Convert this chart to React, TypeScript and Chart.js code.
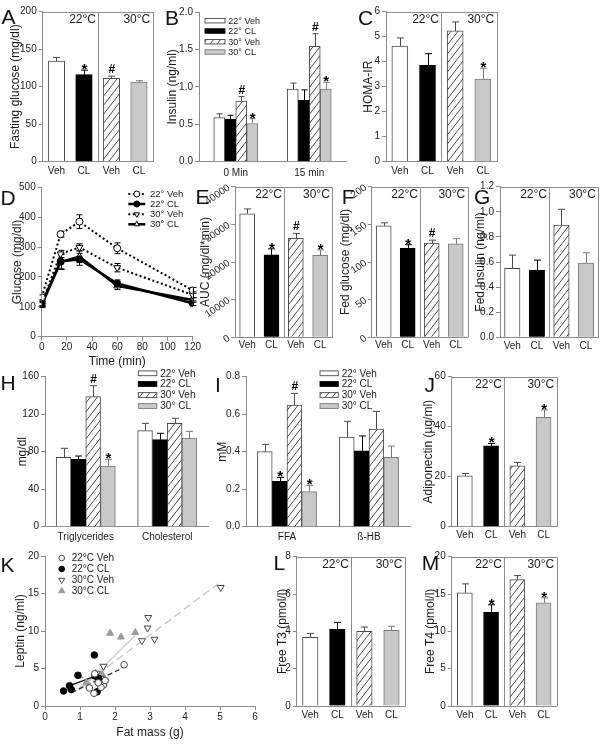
import React, { useEffect, useRef } from 'react';
import { Chart, registerables } from 'chart.js';

Chart.register(...registerables);

const FONT = "'Liberation Sans', Arial, Helvetica, sans-serif";
const AX = '#8a8a8a';
const TXT = '#1a1a1a';

// ======================= DATA =======================
const GROUPS = ['22° Veh', '22° CL', '30° Veh', '30° CL'];
const GROUPS_K = ['22°C Veh', '22°C CL', '30°C Veh', '30°C CL'];
const TREATMENTS = ['Veh', 'CL', 'Veh', 'CL'];
const TEMPS = ['22°C', '30°C'];

// A – fasting glucose (mg/dl)
const fastingGlucose = [134, 116, 111, 106];
const fastingGlucoseErr = [5, 6, 3, 2];
const fastingGlucoseSig = ['', '*', '#', ''];

// B – insulin (ng/ml)
const insulinTimes = ['0 Min', '15 min'];
const insulinVeh22 = [0.59, 0.97];
const insulinCL22 = [0.57, 0.82];
const insulinVeh30 = [0.81, 1.54];
const insulinCL30 = [0.51, 0.97];
const insulinVeh22Err = [0.05, 0.08];
const insulinCL22Err = [0.05, 0.14];
const insulinVeh30Err = [0.06, 0.17];
const insulinCL30Err = [0.065, 0.09];
const insulinVeh22Sig = ['', ''];
const insulinCL22Sig = ['', ''];
const insulinVeh30Sig = ['#', '#'];
const insulinCL30Sig = ['*', '*'];

// C – HOMA-IR
const homaIR = [4.62, 3.85, 5.23, 3.3];
const homaIRErr = [0.33, 0.47, 0.36, 0.44];
const homaIRSig = ['', '', '', '*'];

// D – glucose tolerance test (mg/dl)
const gttTimes = [0, 15, 30, 60, 120];
const gttVeh22 = [132, 343, 385, 296, 155];
const gttCL22 = [110, 252, 259, 178, 112];
const gttVeh30 = [112, 277, 299, 231, 140];
const gttCL30 = [106, 250, 268, 170, 123];
const gttVeh22Err = [8, 10, 23, 18, 10];
const gttCL22Err = [8, 25, 20, 12, 8];
const gttVeh30Err = [8, 12, 12, 14, 10];
const gttCL30Err = [8, 25, 20, 12, 8];

// E – AUC (mg/dl*min)
const aucGlucose = [32800, 21900, 26300, 21800];
const aucGlucoseErr = [1300, 1600, 1300, 1400];
const aucGlucoseSig = ['', '*', '#', '*'];

// F – fed glucose (mg/dl)
const fedGlucose = [148, 118, 125, 124];
const fedGlucoseErr = [4, 5, 4, 7];
const fedGlucoseSig = ['', '*', '#', ''];

// G – fed insulin (ng/ml)
const fedInsulin = [0.55, 0.535, 0.895, 0.592];
const fedInsulinErr = [0.105, 0.08, 0.125, 0.082];
const fedInsulinSig = ['', '', '', ''];

// H – lipids (mg/dl)
const lipidLabels = ['Triglycerides', 'Cholesterol'];
const lipidVeh22 = [74, 102.4];
const lipidCL22 = [71.8, 92.8];
const lipidVeh30 = [138.7, 110.2];
const lipidCL30 = [64.7, 94.6];
const lipidVeh22Err = [9.6, 7.8];
const lipidCL22Err = [3.6, 6.8];
const lipidVeh30Err = [11.7, 5.4];
const lipidCL30Err = [7.1, 7.1];
const lipidVeh22Sig = ['', ''];
const lipidCL22Sig = ['', ''];
const lipidVeh30Sig = ['#', ''];
const lipidCL30Sig = ['*', ''];

// I – FFA / ß-HB (mM)
const fuelLabels = ['FFA', 'ß-HB'];
const fuelVeh22 = [0.4, 0.478];
const fuelCL22 = [0.242, 0.404];
const fuelVeh30 = [0.649, 0.52];
const fuelCL30 = [0.187, 0.37];
const fuelVeh22Err = [0.039, 0.084];
const fuelCL22Err = [0.021, 0.08];
const fuelVeh30Err = [0.062, 0.095];
const fuelCL30Err = [0.033, 0.06];
const fuelVeh22Sig = ['', ''];
const fuelCL22Sig = ['*', ''];
const fuelVeh30Sig = ['#', ''];
const fuelCL30Sig = ['*', ''];

// J – adiponectin (µg/ml)
const adiponectin = [20.3, 32.3, 24.3, 43.7];
const adiponectinErr = [1.0, 1.0, 1.4, 3.0];
const adiponectinSig = ['', '*', '', '*'];

// K – leptin vs fat mass
const fatVeh22 = [2.26, 1.27, 1.4, 1.67, 1.6, 1.52, 1.72, 1.42];
const leptinVeh22 = [5.5, 2.4, 1.7, 2.8, 2.5, 3.1, 3.4, 4.3];
const fatCL22 = [0.53, 0.7, 0.75, 0.94, 1.41, 1.43, 1.53, 1.49];
const leptinCL22 = [2.0, 2.7, 2.2, 4.1, 6.8, 4.0, 3.7, 1.9];
const fatVeh30 = [2.95, 2.93, 2.77, 3.13, 1.67, 1.48, 1.59, 5.02];
const leptinVeh30 = [11.8, 10.4, 8.7, 8.9, 5.3, 4.3, 3.7, 15.8];
const fatCL30 = [0.98, 1.18, 1.25, 1.45, 1.64, 1.86, 2.17, 2.58];
const leptinCL30 = [4.0, 3.1, 2.7, 4.4, 4.2, 9.7, 9.2, 9.8];
const fitVeh22X = [0.76, 2.19];
const fitVeh22Y = [1.8, 5.0];
const fitCL22X = [0.67, 1.52];
const fitCL22Y = [2.65, 4.13];
const fitVeh30X = [0.95, 4.95];
const fitVeh30Y = [2.3, 16.3];
const fitCL30X = [0.98, 2.58];
const fitCL30Y = [2.1, 9.4];

// L – free T3 (pmol/l)
const freeT3 = [3.68, 4.11, 4.0, 4.05];
const freeT3Err = [0.21, 0.37, 0.23, 0.22];
const freeT3Sig = ['', '', '', ''];

// M – free T4 (pmol/l)
const freeT4 = [15.16, 12.58, 16.93, 13.82];
const freeT4Err = [1.2, 0.98, 0.54, 0.67];
const freeT4Sig = ['', '*', '', '*'];

// ======================= LAYOUT / STYLE =======================
type Origin = { x: number; y: number };
type Geom = { l: number; t: number; r: number; b: number; titleX: number; xH: number };

const GEOM: Record<string, Geom> = {
  A: { l: 42.7, t: 11.7, r: 152.7, b: 161.7, titleX: 15, xH: 24 },
  B: { l: 199, t: 12, r: 346, b: 161.7, titleX: 171.7, xH: 24 },
  C: { l: 386, t: 11.7, r: 496.7, b: 161.7, titleX: 368.3, xH: 24 },
  D: { l: 41.7, t: 187.3, r: 192.7, b: 336.7, titleX: 16.7, xH: 32.5 },
  E: { l: 235, t: 186.7, r: 332.3, b: 337.3, titleX: 205, xH: 22 },
  F: { l: 371.7, t: 186.7, r: 467.7, b: 337.3, titleX: 345, xH: 22 },
  G: { l: 500, t: 186.7, r: 598.3, b: 337.3, titleX: 480, xH: 22 },
  H: { l: 45, t: 376.7, r: 208, b: 526.7, titleX: 21.7, xH: 24 },
  I: { l: 246, t: 376.7, r: 410, b: 526.7, titleX: 221.7, xH: 24 },
  J: { l: 451.7, t: 376.7, r: 556.7, b: 526.7, titleX: 428, xH: 24 },
  K: { l: 45, t: 556, r: 255, b: 706, titleX: 20, xH: 34 },
  L: { l: 296.7, t: 556.7, r: 405, b: 706, titleX: 281.7, xH: 22 },
  M: { l: 451.7, t: 556.7, r: 556.7, b: 706, titleX: 430, xH: 22 },
};

const LETTERS: [string, number, number][] = [
  ['A', 1.5, 5.6], ['B', 165, 7.3], ['C', 358, 7.3], ['D', 0.5, 187.3],
  ['E', 195.5, 185.6], ['F', 341.7, 185.6], ['G', 474, 185.6],
  ['H', 0.5, 372.3], ['I', 215, 374], ['J', 424.5, 374],
  ['K', 0.5, 554], ['L', 273.4, 552.3], ['M', 421.7, 551.6],
];

const GROUP_BORDERS = ['#4a4a4a', '#000000', '#4a4a4a', '#7a7a7a'];

function hatch(): any {
  const c = document.createElement('canvas');
  c.width = 7;
  c.height = 9;
  const g = c.getContext('2d');
  if (!g) return '#eeeeee';
  g.fillStyle = '#ffffff';
  g.fillRect(0, 0, 7, 9);
  g.strokeStyle = '#333333';
  g.lineWidth = 0.9;
  g.beginPath();
  for (const dx of [-7, 0, 7]) {
    g.moveTo(dx, 9);
    g.lineTo(dx + 7, 0);
  }
  g.stroke();
  return g.createPattern(c, 'repeat') || '#eeeeee';
}

function groupFills(): any[] {
  return ['#ffffff', '#000000', hatch(), '#c8c8c8'];
}

function drawMarker(ctx: CanvasRenderingContext2D, style: string, x: number, y: number, r: number, fill: any, stroke: string) {
  ctx.beginPath();
  if (style === 'circle') {
    ctx.arc(x, y, r, 0, Math.PI * 2);
  } else {
    let rad = style === 'triDown' ? Math.PI : 0;
    for (let k = 0; k < 3; k++) {
      const px = x + Math.sin(rad) * r;
      const py = y - Math.cos(rad) * r;
      if (k === 0) ctx.moveTo(px, py);
      else ctx.lineTo(px, py);
      rad += (2 * Math.PI) / 3;
    }
    ctx.closePath();
  }
  ctx.fillStyle = fill;
  ctx.fill();
  ctx.lineWidth = 1;
  ctx.strokeStyle = stroke;
  ctx.stroke();
}

function drawLegend(ctx: CanvasRenderingContext2D, L: any, o: Origin) {
  ctx.save();
  L.items.forEach((it: any, k: number) => {
    const y = L.ys[k] - o.y;
    const x = L.x - o.x;
    if (L.kind === 'box') {
      ctx.fillStyle = it.fill;
      ctx.fillRect(x, y - L.h / 2, L.w, L.h);
      ctx.strokeStyle = it.stroke;
      ctx.lineWidth = 0.9;
      ctx.strokeRect(x, y - L.h / 2, L.w, L.h);
    } else if (L.kind === 'line') {
      ctx.strokeStyle = it.stroke;
      ctx.lineWidth = it.lw;
      ctx.setLineDash(it.dash || []);
      ctx.beginPath();
      ctx.moveTo(x, y);
      ctx.lineTo(x + L.w, y);
      ctx.stroke();
      ctx.setLineDash([]);
      drawMarker(ctx, it.marker, x + L.w / 2, y, 3, it.mfill, it.stroke);
    } else {
      drawMarker(ctx, it.marker, x, y, it.r, it.mfill, it.mstroke);
    }
    ctx.fillStyle = TXT;
    ctx.font = `${L.font}px ${FONT}`;
    ctx.textAlign = 'left';
    ctx.textBaseline = 'middle';
    ctx.fillText(it.label, L.tx - o.x, y + 0.5);
  });
  ctx.restore();
}

function annot(o: any) {
  const valueOf = (d: any) => (typeof d === 'number' ? d : d.y);
  return {
    id: 'annot',
    beforeDatasetsDraw(chart: any) {
      if (!o.errs) return;
      const ctx = chart.ctx;
      const ys = chart.scales.y;
      const cap = o.cap || 7;
      ctx.save();
      ctx.lineWidth = 1;
      o.errs.forEach((arr: number[], i: number) => {
        const meta = chart.getDatasetMeta(i);
        meta.data.forEach((el: any, j: number) => {
          const e = arr[j];
          if (!e) return;
          const v = valueOf(chart.data.datasets[i].data[j]);
          const x = Math.round(el.x) + 0.5;
          const top = ys.getPixelForValue(v + e);
          const bot = o.both ? ys.getPixelForValue(v - e) : el.y;
          ctx.strokeStyle = o.errColor ? o.errColor(i, j) : '#000';
          ctx.beginPath();
          ctx.moveTo(x, bot);
          ctx.lineTo(x, top);
          ctx.moveTo(x - cap / 2, top);
          ctx.lineTo(x + cap / 2, top);
          if (o.both) {
            ctx.moveTo(x - cap / 2, bot);
            ctx.lineTo(x + cap / 2, bot);
          }
          ctx.stroke();
        });
      });
      ctx.restore();
    },
    afterDatasetsDraw(chart: any) {
      const ctx = chart.ctx;
      const a = chart.chartArea;
      const xs = chart.scales.x;
      const ys = chart.scales.y;
      ctx.save();
      if (o.frame) {
        ctx.strokeStyle = AX;
        ctx.lineWidth = 1;
        const T = Math.round(a.top) + 0.5;
        const R = Math.round(a.right) + 0.5;
        const dx = Math.round((xs.getPixelForValue(1) + xs.getPixelForValue(2)) / 2) + 0.5;
        ctx.beginPath();
        ctx.moveTo(a.left, T);
        ctx.lineTo(R, T);
        ctx.lineTo(R, a.bottom);
        ctx.moveTo(dx, T);
        ctx.lineTo(dx, a.bottom);
        ctx.stroke();
        ctx.fillStyle = TXT;
        ctx.font = `12px ${FONT}`;
        ctx.textAlign = 'right';
        ctx.textBaseline = 'middle';
        ctx.fillText(TEMPS[0], dx - 2.5, a.top + 8);
        ctx.fillText(TEMPS[1], a.right - 2.5, a.top + 8);
      }
      if (o.sig && o.errs) {
        ctx.fillStyle = '#000';
        ctx.textAlign = 'center';
        ctx.textBaseline = 'alphabetic';
        o.sig.forEach((arr: string[], i: number) => {
          const meta = chart.getDatasetMeta(i);
          meta.data.forEach((el: any, j: number) => {
            const m = arr[j];
            if (!m) return;
            const v = valueOf(chart.data.datasets[i].data[j]);
            const top = ys.getPixelForValue(v + (o.errs[i][j] || 0));
            if (m === '*') {
              ctx.font = `bold 15px ${FONT}`;
              ctx.fillText('*', el.x + 0.5, top + 4);
            } else {
              ctx.font = `bold 12px ${FONT}`;
              ctx.fillText(m, el.x + 0.5, top - 3);
            }
          });
        });
      }
      if (o.legend) drawLegend(ctx, o.legend, o.origin);
      ctx.restore();
    },
  };
}

function baseOptions(scales: any) {
  return {
    animation: false,
    responsive: false,
    maintainAspectRatio: false,
    events: [],
    plugins: { legend: { display: false }, tooltip: { enabled: false }, title: { display: false } },
    scales,
  };
}

const tickFont = { family: FONT, size: 10 };

function yLin(min: number, max: number, step: number, title: string, dec = 0, rot = 0) {
  return {
    type: 'linear',
    min,
    max,
    ticks: {
      stepSize: step,
      font: tickFont,
      color: TXT,
      padding: 2,
      autoSkip: false,
      minRotation: rot,
      maxRotation: rot,
      callback: (v: number) => (dec ? Number(v).toFixed(dec) : String(Math.round(v))),
    },
    grid: { display: true, drawOnChartArea: false, drawTicks: true, tickLength: 4, color: AX },
    border: { display: true, color: AX, width: 1 },
    title: { display: true, text: title, font: { family: FONT, size: 12 }, color: TXT, padding: 0 },
  };
}

function xCat(pad: number) {
  return {
    type: 'category',
    offset: true,
    grid: { display: false, drawTicks: false, tickLength: 0 },
    border: { display: true, color: AX, width: 1 },
    ticks: { font: tickFont, color: TXT, padding: pad, autoSkip: false, maxRotation: 0, minRotation: 0 },
  };
}

function xLin(min: number, max: number, step: number, title: string, pad: number) {
  return {
    type: 'linear',
    min,
    max,
    ticks: { stepSize: step, font: tickFont, color: TXT, padding: pad, autoSkip: false, maxRotation: 0 },
    grid: { display: true, drawOnChartArea: false, drawTicks: true, tickLength: 4, color: AX },
    border: { display: true, color: AX, width: 1 },
    title: { display: true, text: title, font: { family: FONT, size: 12 }, color: TXT, padding: 0 },
  };
}

function singleBar(o: Origin, values: number[], errs: number[], sig: string[], y: any, thick: number, pad: number) {
  const fills = groupFills();
  return {
    type: 'bar',
    data: {
      labels: TREATMENTS,
      datasets: [{ data: values, backgroundColor: fills, borderColor: GROUP_BORDERS, borderWidth: 1, barThickness: thick }],
    },
    options: baseOptions({ x: xCat(pad), y }),
    plugins: [annot({ errs: [errs], sig: [sig], errColor: (_i: number, j: number) => GROUP_BORDERS[j], cap: 7, frame: true, origin: o })],
  };
}

function groupedBar(o: Origin, labels: string[], series: number[][], errs: number[][], sig: string[][], y: any, thick: number, pad: number, cap: number, leg: any) {
  const fills = groupFills();
  const datasets = series.map((d, i) => ({
    label: GROUPS[i],
    data: d,
    backgroundColor: fills[i],
    borderColor: GROUP_BORDERS[i],
    borderWidth: 1,
    barThickness: thick,
  }));
  const legend = { ...leg, kind: 'box', items: GROUPS.map((g, i) => ({ label: g, fill: fills[i], stroke: GROUP_BORDERS[i] })) };
  return {
    type: 'bar',
    data: { labels, datasets },
    options: baseOptions({ x: xCat(pad), y }),
    plugins: [annot({ errs, sig, errColor: (i: number) => GROUP_BORDERS[i], cap, legend, origin: o })],
  };
}

const D_STYLE = [
  { lw: 2, dash: [2, 2.5], ps: 'circle', rot: 0, r: 3.5, fill: '#ffffff', m: 'circle' },
  { lw: 2.5, dash: [], ps: 'circle', rot: 0, r: 3.5, fill: '#000000', m: 'circle' },
  { lw: 2, dash: [2, 2.5], ps: 'triangle', rot: 180, r: 4, fill: '#ffffff', m: 'triDown' },
  { lw: 2.5, dash: [], ps: 'triangle', rot: 0, r: 4, fill: '#ffffff', m: 'triUp' },
];

function makeD(o: Origin) {
  const series = [gttVeh22, gttCL22, gttVeh30, gttCL30];
  const errs = [gttVeh22Err, gttCL22Err, gttVeh30Err, gttCL30Err];
  const datasets = series.map((s, i) => ({
    label: GROUPS[i],
    data: gttTimes.map((t, k) => ({ x: t, y: s[k] })),
    borderColor: '#000000',
    borderWidth: D_STYLE[i].lw,
    borderDash: D_STYLE[i].dash,
    pointStyle: D_STYLE[i].ps,
    pointRotation: D_STYLE[i].rot,
    pointRadius: D_STYLE[i].r,
    pointBackgroundColor: D_STYLE[i].fill,
    pointBorderColor: '#000000',
    pointBorderWidth: 1,
    tension: 0,
    fill: false,
  }));
  const legend = {
    kind: 'line', x: 128.3, w: 17, tx: 150, ys: [194, 204, 214.3, 224.3], font: 9.5,
    items: GROUPS.map((g, i) => ({ label: g, stroke: '#000', lw: D_STYLE[i].lw, dash: D_STYLE[i].dash, marker: D_STYLE[i].m, mfill: D_STYLE[i].fill })),
  };
  return {
    type: 'line',
    data: { datasets },
    options: baseOptions({ x: xLin(0, 120, 20, 'Time (min)', 1), y: yLin(0, 500, 100, 'Glucose (mg/dl)') }),
    plugins: [annot({ errs, both: true, cap: 6, errColor: () => '#000', legend, origin: o })],
  };
}

const K_STYLE = [
  { ps: 'circle', rot: 0, r: 3.3, fill: '#ffffff', stroke: '#444444', m: 'circle', line: '#333333', dash: [5, 3] },
  { ps: 'circle', rot: 0, r: 3.3, fill: '#000000', stroke: '#000000', m: 'circle', line: '#111111', dash: [] },
  { ps: 'triangle', rot: 180, r: 4, fill: '#ffffff', stroke: '#444444', m: 'triDown', line: '#c4c4c4', dash: [8, 4] },
  { ps: 'triangle', rot: 0, r: 4, fill: '#9a9a9a', stroke: '#9a9a9a', m: 'triUp', line: '#cccccc', dash: [] },
];

function makeK(o: Origin) {
  const pts = [[fatVeh22, leptinVeh22], [fatCL22, leptinCL22], [fatVeh30, leptinVeh30], [fatCL30, leptinCL30]];
  const fits = [[fitVeh22X, fitVeh22Y], [fitCL22X, fitCL22Y], [fitVeh30X, fitVeh30Y], [fitCL30X, fitCL30Y]];
  const pointSets = pts.map(([xs, ys], i) => ({
    label: GROUPS_K[i],
    data: xs.map((x, k) => ({ x, y: ys[k] })),
    showLine: false,
    pointStyle: K_STYLE[i].ps,
    pointRotation: K_STYLE[i].rot,
    pointRadius: K_STYLE[i].r,
    pointBackgroundColor: K_STYLE[i].fill,
    pointBorderColor: K_STYLE[i].stroke,
    pointBorderWidth: 1,
    order: 0,
  }));
  const lineSets = fits.map(([xs, ys], i) => ({
    label: GROUPS_K[i] + ' fit',
    data: xs.map((x, k) => ({ x, y: ys[k] })),
    showLine: true,
    borderColor: K_STYLE[i].line,
    borderDash: K_STYLE[i].dash,
    borderWidth: 1.3,
    pointRadius: 0,
    order: 1,
  }));
  const legend = {
    kind: 'marker', x: 61.7, tx: 71.7, ys: [558, 569, 580, 591], font: 10,
    items: GROUPS_K.map((g, i) => ({ label: g, marker: K_STYLE[i].m, r: K_STYLE[i].r - 0.5, mfill: K_STYLE[i].fill, mstroke: K_STYLE[i].stroke })),
  };
  return {
    type: 'scatter',
    data: { datasets: [...pointSets, ...lineSets] },
    options: baseOptions({ x: xLin(0, 6, 1, 'Fat mass (g)', 1.3), y: yLin(0, 20, 5, 'Leptin (ng/ml)') }),
    plugins: [annot({ legend, origin: o })],
  };
}

// ======================= COMPONENTS =======================
function Panel({ g, make }: { g: Geom; make: (o: Origin) => any }) {
  const ref = useRef<HTMLCanvasElement | null>(null);
  const cl = Math.round(g.titleX - 7.2);
  const ct = Math.round(g.t - 18);
  const cr = Math.round(g.r + 12);
  const cb = Math.round(g.b + g.xH);
  const w = cr - cl;
  const h = cb - ct;
  useEffect(() => {
    const canvas = ref.current;
    if (!canvas) return;
    const cfg = make({ x: cl, y: ct });
    cfg.options.layout = { padding: { left: 0, top: g.t - ct, right: cr - g.r, bottom: 0 } };
    const yW = g.l - cl;
    const xHt = cb - g.b;
    cfg.options.scales.x.afterFit = (s: any) => {
      s.height = xHt;
    };
    cfg.options.scales.y.afterFit = (s: any) => {
      s.width = yW;
    };
    const chart = new Chart(canvas, cfg);
    return () => chart.destroy();
  }, []);
  return <canvas ref={ref} width={w} height={h} style={{ position: 'absolute', left: cl, top: ct, width: w, height: h }} />;
}

export default function App() {
  return (
    <div style={{ position: 'absolute', left: 0, top: 0, width: 607, height: 747, overflow: 'hidden', background: '#ffffff', fontFamily: FONT }}>
      <Panel g={GEOM.A} make={(o) => singleBar(o, fastingGlucose, fastingGlucoseErr, fastingGlucoseSig, yLin(0, 200, 50, 'Fasting glucose (mg/dl)'), 16.5, 4)} />
      <Panel
        g={GEOM.B}
        make={(o) =>
          groupedBar(
            o,
            insulinTimes,
            [insulinVeh22, insulinCL22, insulinVeh30, insulinCL30],
            [insulinVeh22Err, insulinCL22Err, insulinVeh30Err, insulinCL30Err],
            [insulinVeh22Sig, insulinCL22Sig, insulinVeh30Sig, insulinCL30Sig],
            yLin(0, 2, 0.5, 'Insulin (ng/ml)', 1),
            11,
            5.5,
            6,
            { x: 205, w: 20, h: 4.5, tx: 228.3, ys: [20.7, 31, 41.7, 52], font: 9 }
          )
        }
      />
      <Panel g={GEOM.C} make={(o) => singleBar(o, homaIR, homaIRErr, homaIRSig, yLin(0, 6, 1, 'HOMA-IR'), 16, 4)} />
      <Panel g={GEOM.D} make={makeD} />
      <Panel g={GEOM.E} make={(o) => singleBar(o, aucGlucose, aucGlucoseErr, aucGlucoseSig, yLin(0, 40000, 10000, 'AUC (mg/dl*min)', 0, 35), 15, 2)} />
      <Panel g={GEOM.F} make={(o) => singleBar(o, fedGlucose, fedGlucoseErr, fedGlucoseSig, yLin(0, 200, 50, 'Fed glucose (mg/dl)', 0, 35), 15, 2)} />
      <Panel g={GEOM.G} make={(o) => singleBar(o, fedInsulin, fedInsulinErr, fedInsulinSig, yLin(0, 1.2, 0.2, 'Fed Insulin (ng/ml)', 1), 15.5, 2.5)} />
      <Panel
        g={GEOM.H}
        make={(o) =>
          groupedBar(
            o,
            lipidLabels,
            [lipidVeh22, lipidCL22, lipidVeh30, lipidCL30],
            [lipidVeh22Err, lipidCL22Err, lipidVeh30Err, lipidCL30Err],
            [lipidVeh22Sig, lipidCL22Sig, lipidVeh30Sig, lipidCL30Sig],
            yLin(0, 160, 40, 'mg/dl'),
            14.8,
            5,
            7,
            { x: 138.3, w: 18.5, h: 4.8, tx: 160.3, ys: [373.3, 384, 395, 406], font: 10 }
          )
        }
      />
      <Panel
        g={GEOM.I}
        make={(o) =>
          groupedBar(
            o,
            fuelLabels,
            [fuelVeh22, fuelCL22, fuelVeh30, fuelCL30],
            [fuelVeh22Err, fuelCL22Err, fuelVeh30Err, fuelCL30Err],
            [fuelVeh22Sig, fuelCL22Sig, fuelVeh30Sig, fuelCL30Sig],
            yLin(0, 0.8, 0.2, 'mM', 1),
            14.8,
            5,
            7,
            { x: 320, w: 18.3, h: 4.8, tx: 341.7, ys: [373.3, 384, 395, 406], font: 10 }
          )
        }
      />
      <Panel g={GEOM.J} make={(o) => singleBar(o, adiponectin, adiponectinErr, adiponectinSig, yLin(0, 60, 20, 'Adiponectin (µg/ml)'), 15, 2.5)} />
      <Panel g={GEOM.K} make={makeK} />
      <Panel g={GEOM.L} make={(o) => singleBar(o, freeT3, freeT3Err, freeT3Sig, yLin(0, 8, 2, 'Free T3 (pmol/l)'), 15.5, 3)} />
      <Panel g={GEOM.M} make={(o) => singleBar(o, freeT4, freeT4Err, freeT4Sig, yLin(0, 20, 5, 'Free T4 (pmol/l)'), 15, 3)} />
      {LETTERS.map(([ch, x, y]) => (
        <div
          key={ch}
          style={{ position: 'absolute', left: x, top: y, fontSize: 21, lineHeight: '21px', fontFamily: FONT, color: '#111' }}
        >
          {ch}
        </div>
      ))}
    </div>
  );
}
